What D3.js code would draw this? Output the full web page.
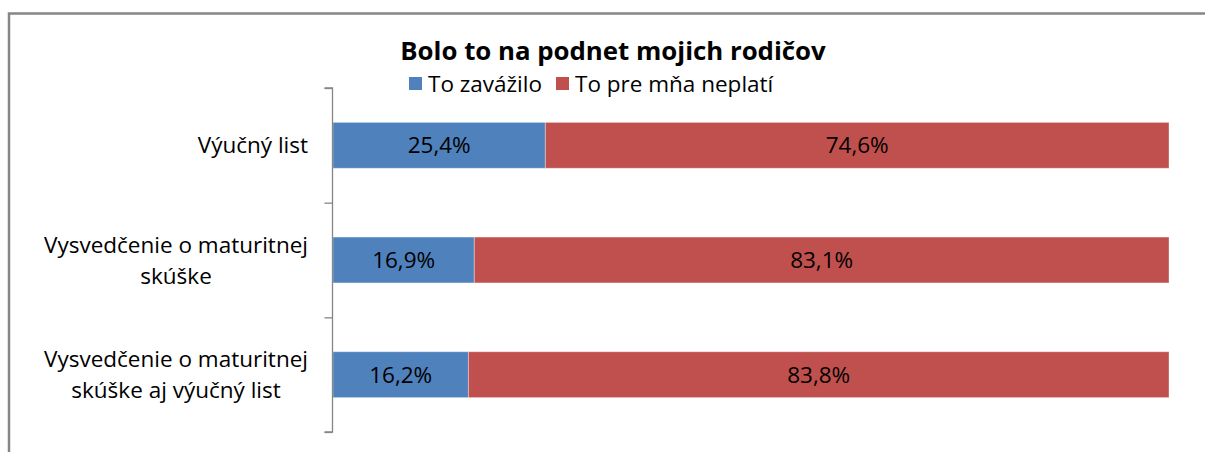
<!DOCTYPE html>
<html>
<head>
<meta charset="utf-8">
<title></title>
<script src="https://cdn.jsdelivr.net/npm/d3@7"></script>
<style>
  body { margin: 0; background: #fff; }
  text { font-family: "Open Sans", "Noto Sans", sans-serif; fill: #000; }
</style>
</head>
<body>
<svg width="1205" height="452"></svg>
<script>
// data
var title = "Bolo to na podnet mojich rodičov";
var categories = [
  ["Výučný list"],
  ["Vysvedčenie o maturitnej", "skúške"],
  ["Vysvedčenie o maturitnej", "skúške aj výučný list"]
];
var seriesNames = ["To zavážilo", "To pre mňa neplatí"];
var zavazilo = [25.4, 16.9, 16.2];
var neplati = [74.6, 83.1, 83.8];
var colors = ["#4F81BD", "#C0504D"];

var svg = d3.select("svg");

// chart frame (runs off the right and bottom edge like the original)
svg.append("rect")
  .attr("x", 9).attr("y", 13.5)
  .attr("width", 1220).attr("height", 460)
  .attr("fill", "#fff")
  .attr("stroke", "#868686")
  .attr("stroke-width", 2.5);

var x = d3.scaleLinear().domain([0, 100]).range([333, 1169]);
var y = d3.scaleBand().domain(d3.range(categories.length)).range([88, 432])
  .paddingInner(0.6).paddingOuter(0.3);
var yEdge = d3.scaleLinear().domain([0, categories.length]).range([88, 432]);

// stacked data
var rows = categories.map(function(c, i) {
  return { i: i, a: zavazilo[i], b: neplati[i] };
});
var stack = d3.stack().keys(["a", "b"])(rows);

var g = svg.append("g");
stack.forEach(function(layer, k) {
  g.selectAll(".bar" + k)
    .data(layer)
    .enter()
    .append("rect")
    .attr("x", function(d) { return x(d[0]); })
    .attr("y", function(d) { return y(d.data.i); })
    .attr("width", function(d) { return x(d[1]) - x(d[0]); })
    .attr("height", y.bandwidth())
    .attr("fill", colors[k])
    .attr("stroke", "rgba(255,255,255,0.35)")
    .attr("stroke-width", 1);

  g.selectAll(".lbl" + k)
    .data(layer)
    .enter()
    .append("text")
    .attr("x", function(d) { return (x(d[0]) + x(d[1])) / 2; })
    .attr("y", function(d) { return y(d.data.i) + y.bandwidth() / 2; })
    .attr("dy", "0.36em")
    .attr("text-anchor", "middle")
    .style("font-size", "22.5px")
    .text(function(d) { return (d[1] - d[0]).toFixed(1).replace(".", ",") + "%"; });
});

// axis with ticks between categories
var axis = svg.append("g")
  .attr("transform", "translate(332.5,0)")
  .call(d3.axisLeft(yEdge).tickValues(d3.range(categories.length + 1)).tickSize(8).tickFormat(""));
axis.selectAll("path, line").attr("stroke", "#868686").attr("stroke-width", 1.3);
axis.select("path").attr("d", "M-8," + yEdge(0) + "H0V" + yEdge(categories.length) + "H-8");
axis.selectAll("text").remove();

// category labels: block right aligned, lines centred inside it
var lab = svg.append("g");
categories.forEach(function(lines, i) {
  var t = lab.append("text")
    .attr("text-anchor", "middle")
    .style("font-size", "22.5px");
  var cy = y(i) + y.bandwidth() / 2;
  var lh = 31;
  var spans = lines.map(function(s, j) {
    return t.append("tspan").attr("x", 0)
      .attr("y", cy + (j - (lines.length - 1) / 2) * lh).attr("dy", "0.36em").text(s);
  });
  var w = d3.max(spans, function(s) { return s.node().getComputedTextLength(); });
  spans.forEach(function(s) { s.attr("x", 308 - w / 2); });
});

// title
svg.append("text")
  .attr("x", 613).attr("y", 60)
  .attr("text-anchor", "middle")
  .style("font-size", "25.8px").style("font-weight", "bold")
  .text(title);

// legend
var leg = svg.append("g");
var lx = [409, 556];
seriesNames.forEach(function(n, k) {
  leg.append("rect").attr("x", lx[k]).attr("y", 77).attr("width", 13).attr("height", 13).attr("fill", colors[k]);
  leg.append("text").attr("x", lx[k] + 19).attr("y", 84).attr("dy", "0.36em")
    .style("font-size", "22.5px").text(n);
});
</script>
</body>
</html>
